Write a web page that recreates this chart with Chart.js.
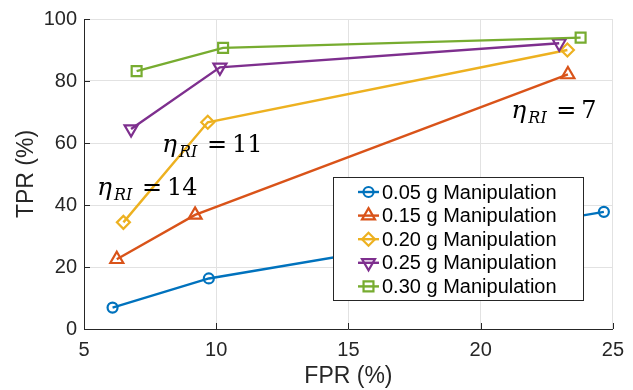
<!DOCTYPE html>
<html>
<head>
<meta charset="utf-8">
<script src="https://cdn.jsdelivr.net/npm/chart.js@4"></script>
<style>
html, body { margin: 0; padding: 0; background: #fff; }
#wrap { width: 633px; height: 390px; }
</style>
</head>
<body>
<div id="wrap"><canvas id="chart_roc"></canvas></div>
<script>
// values (FPR / TPR in %)
const seriesNames = ['0.05 g Manipulation', '0.15 g Manipulation', '0.20 g Manipulation', '0.25 g Manipulation', '0.30 g Manipulation'];
const fpr005 = [6.08, 9.72, 24.66];
const tpr005 = [6.9, 16.3, 37.8];
const fpr015 = [6.24, 9.2, 23.3];
const tpr015 = [22.5, 36.8, 82.1];
const fpr020 = [6.49, 9.68, 23.28];
const tpr020 = [34.4, 66.7, 90.0];
const fpr025 = [6.78, 10.14, 22.97];
const tpr025 = [64.5, 84.4, 92.2];
const fpr030 = [6.99, 10.26, 23.78];
const tpr030 = [83.2, 90.7, 94.0];

const xTicks = [5, 10, 15, 20, 25];
const yTicks = [0, 20, 40, 60, 80, 100];

// eta_RI annotations, anchored in data coordinates (left end, baseline)
const etaValues = ['14', '11', '7'];
const etaX = [5.49, 7.95, 21.16];
const etaY = [43.2, 57.1, 68.1];

const colors = ['#0072BD', '#D95319', '#EDB120', '#7E2F8E', '#77AC30'];
const markers = [
    { pointStyle: 'circle', radius: 5, rotation: 0 },
    { pointStyle: 'triangle', radius: 7.5, rotation: 0 },
    { pointStyle: 'rectRot', radius: 6.5, rotation: 0 },
    { pointStyle: 'triangle', radius: 7.5, rotation: 180 },
    { pointStyle: 'rect', radius: 7, rotation: 0 },
];
const sans = '"Liberation Sans", Arial, sans-serif';
const serif = '"DejaVu Serif", "Liberation Serif", serif';

function toPoints(xs, ys) {
    return xs.map((x, i) => ({ x: x, y: ys[i] }));
}

const allX = [fpr005, fpr015, fpr020, fpr025, fpr030];
const allY = [tpr005, tpr015, tpr020, tpr025, tpr030];

const datasets = seriesNames.map((name, i) => ({
    label: name,
    data: toPoints(allX[i], allY[i]),
    borderColor: colors[i],
    backgroundColor: colors[i],
    borderWidth: 2.4,
    pointStyle: markers[i].pointStyle,
    pointRadius: markers[i].radius,
    pointRotation: markers[i].rotation,
    pointBorderWidth: 2.2,
    pointBorderColor: colors[i],
    pointBackgroundColor: 'rgba(0,0,0,0)',
    order: 4 - i,
}));

// small inward tick marks like matlab
const innerTicks = {
    id: 'innerTicks',
    afterDatasetsDraw(chart) {
        const { ctx, chartArea, scales } = chart;
        ctx.save();
        ctx.strokeStyle = '#262626';
        ctx.lineWidth = 1;
        ctx.beginPath();
        xTicks.forEach(v => {
            const px = Math.round(scales.x.getPixelForValue(v)) + 0.5;
            ctx.moveTo(px, chartArea.bottom);
            ctx.lineTo(px, chartArea.bottom - 6);
        });
        yTicks.forEach(v => {
            const py = Math.round(scales.y.getPixelForValue(v)) + 0.5;
            ctx.moveTo(chartArea.left, py);
            ctx.lineTo(chartArea.left + 6, py);
        });
        ctx.stroke();
        ctx.restore();
    }
};

const etaLabels = {
    id: 'etaLabels',
    afterDatasetsDraw(chart) {
        const { ctx, scales } = chart;
        ctx.save();
        ctx.fillStyle = '#000';
        ctx.textBaseline = 'alphabetic';
        ctx.textAlign = 'left';
        etaValues.forEach((val, i) => {
            const x = scales.x.getPixelForValue(etaX[i]);
            const y = scales.y.getPixelForValue(etaY[i]);
            ctx.font = 'italic 25px ' + serif;
            ctx.fillText('\u03B7', x, y);
            ctx.font = 'italic 16px ' + serif;
            ctx.fillText('RI', x + 17, y + 5);
            ctx.font = '24px ' + serif;
            ctx.fillText('=', x + 45, y);
            ctx.fillText(val, x + 70, y);
        });
        ctx.restore();
    }
};

const boxLegend = {
    id: 'boxLegend',
    afterDraw(chart) {
        const { ctx } = chart;
        const left = 333, top = 177, w = 250, h = 123, rowH = 23.6;
        ctx.save();
        ctx.fillStyle = '#fff';
        ctx.fillRect(left, top, w, h);
        ctx.strokeStyle = '#262626';
        ctx.lineWidth = 1;
        ctx.strokeRect(left + 0.5, top + 0.5, w, h);
        seriesNames.forEach((name, i) => {
            const cy = top + 15 + i * rowH;
            ctx.strokeStyle = colors[i];
            ctx.lineWidth = 2.4;
            ctx.beginPath();
            ctx.moveTo(358, cy);
            ctx.lineTo(379, cy);
            ctx.stroke();
            ctx.lineWidth = 2.2;
            ctx.fillStyle = 'rgba(0,0,0,0)';
            Chart.helpers.drawPoint(ctx, {
                pointStyle: markers[i].pointStyle,
                radius: markers[i].radius,
                rotation: markers[i].rotation,
                borderWidth: 2.2,
            }, 368.5, cy);
            ctx.fillStyle = '#000';
            ctx.font = '20px ' + sans;
            ctx.textBaseline = 'middle';
            ctx.textAlign = 'left';
            ctx.fillText(name, 382, cy + 1);
        });
        ctx.restore();
    }
};

let chartRoc = new Chart(
    document.getElementById('chart_roc'),
    {
        type: 'line',
        data: { datasets: datasets },
        options: {
            responsive: true,
            maintainAspectRatio: false,
            animation: false,
            layout: { padding: { left: 13, top: 19, right: 13, bottom: 0 } },
            scales: {
                x: {
                    type: 'linear',
                    min: 5,
                    max: 25,
                    afterBuildTicks: s => { s.ticks = xTicks.map(v => ({ value: v })); },
                    afterFit: s => { s.height = 61; },
                    grid: { color: '#e2e2e2', lineWidth: 1, drawTicks: false },
                    border: { color: '#262626', width: 1 },
                    ticks: { color: '#262626', font: { family: sans, size: 20 }, padding: 9, maxRotation: 0 },
                    title: { display: true, text: 'FPR (%)', color: '#262626', font: { family: sans, size: 23 }, padding: 0 },
                },
                y: {
                    type: 'linear',
                    min: 0,
                    max: 100,
                    afterBuildTicks: s => { s.ticks = yTicks.map(v => ({ value: v })); },
                    afterFit: s => { s.width = 71; },
                    grid: { color: '#e2e2e2', lineWidth: 1, drawTicks: false },
                    border: { color: '#262626', width: 1 },
                    ticks: { color: '#262626', font: { family: sans, size: 20 }, padding: 7 },
                    title: { display: true, text: 'TPR (%)', color: '#262626', font: { family: sans, size: 23 }, padding: 0 },
                },
            },
            plugins: {
                legend: { display: false },
                tooltip: { enabled: false },
            },
        },
        plugins: [innerTicks, etaLabels, boxLegend],
    }
);
</script>
</body>
</html>
